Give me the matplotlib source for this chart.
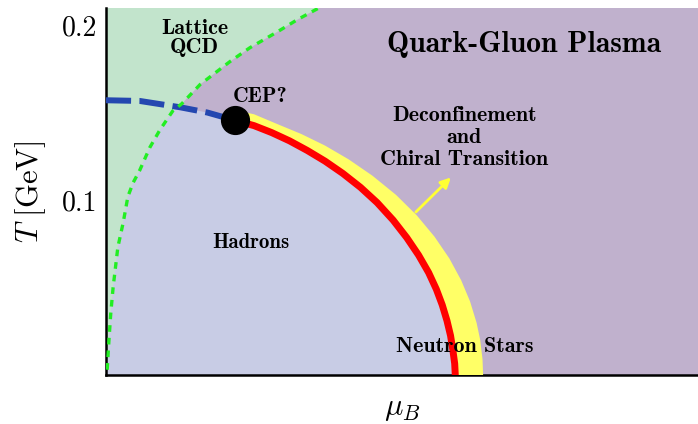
import numpy as np
import matplotlib.pyplot as plt

plt.rcParams['mathtext.fontset'] = 'cm'

# green dotted line: reach of lattice QCD
lat_mu = [0.002, 0.005, 0.008, 0.012, 0.020, 0.029, 0.037, 0.046, 0.057, 0.074,
          0.091, 0.113, 0.128, 0.159, 0.209, 0.243, 0.289, 0.323, 0.361]
lat_T = [0.003, 0.020, 0.035, 0.050, 0.073, 0.087, 0.102, 0.110, 0.117, 0.130,
         0.140, 0.151, 0.155, 0.166, 0.179, 0.187, 0.196, 0.203, 0.210]

# blue dashed crossover up to the CEP
xo_mu = [0.0, 0.057, 0.125, 0.171, 0.218]
xo_T = [0.157, 0.1566, 0.153, 0.150, 0.1455]

# red first order line from the CEP down to T=0
pt_mu = [0.218, 0.250, 0.280, 0.310, 0.340, 0.370, 0.400, 0.430, 0.458, 0.485,
         0.508, 0.528, 0.545, 0.558, 0.568, 0.576, 0.582, 0.586, 0.589, 0.590]
pt_T = [0.1455, 0.1425, 0.1385, 0.1338, 0.1283, 0.1222, 0.1152, 0.1072, 0.0985, 0.0885,
        0.0785, 0.0685, 0.0585, 0.0490, 0.0400, 0.0310, 0.0225, 0.0140, 0.0065, 0.0]

# outer edge of the yellow band
band_mu = [0.218, 0.250, 0.290, 0.330, 0.370, 0.410, 0.450, 0.490, 0.525,
           0.555, 0.580, 0.600, 0.615, 0.626, 0.632, 0.636, 0.637]
band_T = [0.1513, 0.149, 0.1433, 0.1377, 0.1311, 0.1232, 0.1139, 0.1029, 0.0912,
          0.0790, 0.0666, 0.0541, 0.0420, 0.0298, 0.0202, 0.0090, 0.0]

cep = (0.218, 0.1455)
yticks = [0.1, 0.2]
ytick_labels = ['0.1', '0.2']

fig = plt.figure(figsize=(6.98, 4.24), dpi=100)
ax = fig.add_axes([106/698, 49/424, 592/698, 367.5/424])
ax.set_xlim(0, 1.0)
ax.set_ylim(0, 0.21)
ax.set_facecolor('#c0b1cd')

# hadron region
had_x = xo_mu + pt_mu[1:] + [0.0]
had_y = xo_T + pt_T[1:] + [0.0]
ax.fill(had_x, had_y, color='#c8cce5', lw=0, zorder=1)

# lattice region (left of dotted line)
lx = [0.0] + lat_mu + [0.0]
ly = [0.0] + lat_T + [0.21]
ax.fill(lx, ly, color='#c2e4cc', lw=0, zorder=2)

# yellow band + red line
ax.fill(band_mu + pt_mu[::-1], band_T + pt_T[::-1], color='#ffff66', lw=0, zorder=3)
ax.plot(pt_mu, pt_T, color='#ff0000', lw=5, solid_joinstyle='round', zorder=4)

ax.plot(xo_mu, xo_T, color='#2447b0', lw=4.3, ls=(0, (4.2, 1.4)), zorder=4)
ax.plot(lat_mu, lat_T, color='#22ee22', lw=2.4, ls=(0, (2, 1.8)), zorder=4)
ax.plot(*cep, 'o', color='black', ms=20, zorder=5)

ax.annotate('', xy=(0.586, 0.114), xytext=(0.520, 0.092),
            arrowprops=dict(arrowstyle='-|>', color='#ffff33', lw=2, mutation_scale=15),
            zorder=5)

tf = dict(family='cmb10', ha='center', va='center', zorder=6)
ax.text(0.150, 0.1926, 'Lattice\nQCD', fontsize=15.8, linespacing=0.98, **tf)
ax.text(0.706, 0.189, 'Quark-Gluon Plasma', fontsize=21.3, **tf)
ax.text(0.260, 0.159, 'CEP?', fontsize=15.5, **tf)
ax.text(0.605, 0.1357, 'Deconfinement\nand\nChiral Transition', fontsize=15.8,
        linespacing=1.2, **tf)
ax.text(0.245, 0.076, 'Hadrons', fontsize=15, **tf)
ax.text(0.606, 0.016, 'Neutron Stars', fontsize=15.8, **tf)

for s in ['top', 'right']:
    ax.spines[s].set_visible(False)
for s in ['left', 'bottom']:
    ax.spines[s].set_linewidth(1.8)
ax.set_xticks([])
ax.set_yticks(yticks)
ax.set_yticklabels(ytick_labels, family='cmr10', fontsize=20)
ax.tick_params(axis='y', direction='in', length=4, width=1, pad=6)

ax.set_xlabel(r'$\mu_B$', fontsize=22, labelpad=14)
ax.set_ylabel(r'$T\ [\mathrm{GeV}]$', fontsize=22, labelpad=10)

fig.savefig('out.png', dpi=100)
